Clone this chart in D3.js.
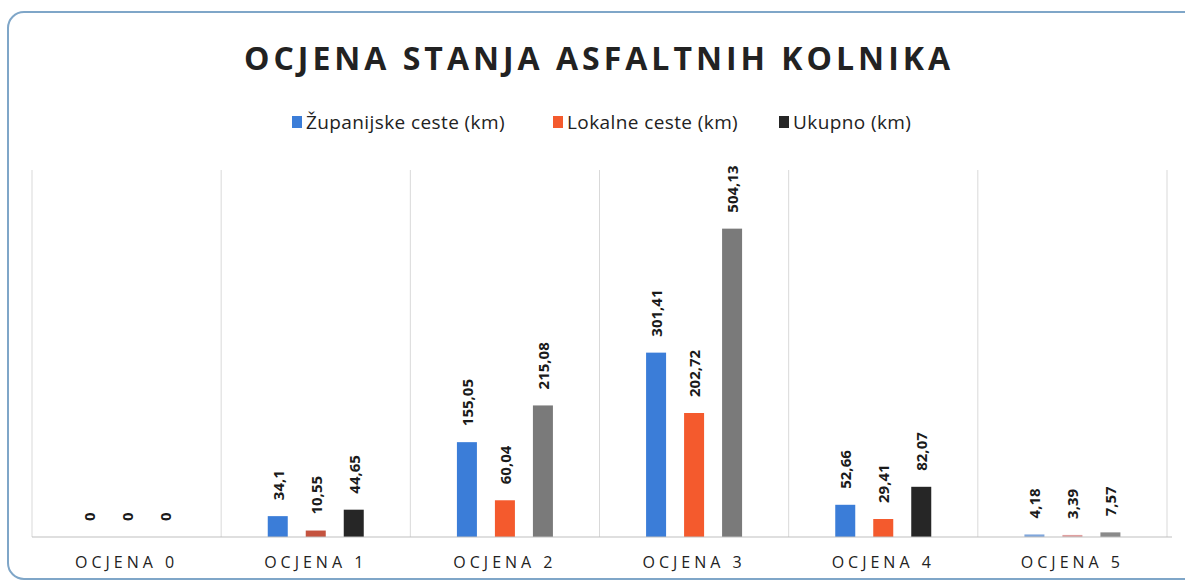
<!DOCTYPE html>
<html>
<head>
<meta charset="utf-8">
<script src="https://cdn.jsdelivr.net/npm/d3@7"></script>
<style>
  body { margin: 0; background: #fff; }
  svg { display: block; font-family: "Open Sans", "DejaVu Sans", sans-serif; }
</style>
</head>
<body>
<svg width="1185" height="584"></svg>
<script>
const categories = ["OCJENA 0", "OCJENA 1", "OCJENA 2", "OCJENA 3", "OCJENA 4", "OCJENA 5"];
const seriesNames = ["Županijske ceste (km)", "Lokalne ceste (km)", "Ukupno (km)"];
const zupanijske = [0, 34.1, 155.05, 301.41, 52.66, 4.18];
const lokalne = [0, 10.55, 60.04, 202.72, 29.41, 3.39];
const ukupno = [0, 44.65, 215.08, 504.13, 82.07, 7.57];
const labels = [
  ["0", "34,1", "155,05", "301,41", "52,66", "4,18"],
  ["0", "10,55", "60,04", "202,72", "29,41", "3,39"],
  ["0", "44,65", "215,08", "504,13", "82,07", "7,57"]
];

const colors = ["#3b7dd8", "#f45a2d", "#262626"];
// the scanned picture shows a few bars in off colours
const overrideColor = {
  "1|OCJENA 1": "#c4533f",
  "2|OCJENA 2": "#7a7a7a",
  "2|OCJENA 3": "#7a7a7a",
  "0|OCJENA 5": "#7fa6dc",
  "1|OCJENA 5": "#e0a0a0",
  "2|OCJENA 5": "#8a8a8a"
};

const svg = d3.select("svg");
const plot = { left: 32, right: 1167, top: 170, bottom: 537 };

// frame
svg.append("rect")
  .attr("x", 8).attr("y", 12)
  .attr("width", 1200).attr("height", 567)
  .attr("rx", 16)
  .attr("fill", "none")
  .attr("stroke", "#7fa6c8")
  .attr("stroke-width", 2);

// title
svg.append("text")
  .attr("x", 599).attr("y", 70)
  .attr("text-anchor", "middle")
  .attr("font-size", 32)
  .attr("font-weight", "bold")
  .attr("letter-spacing", 4)
  .attr("fill", "#222")
  .text("OCJENA STANJA ASFALTNIH KOLNIKA");

// legend
const legendX = [292, 553, 779];
const legend = svg.append("g");
seriesNames.forEach((name, i) => {
  legend.append("rect")
    .attr("x", legendX[i]).attr("y", 116)
    .attr("width", 10).attr("height", 12)
    .attr("fill", colors[i]);
  legend.append("text")
    .attr("x", legendX[i] + 14).attr("y", 129)
    .attr("font-size", 19)
    .attr("letter-spacing", 0.4)
    .attr("fill", "#222")
    .text(name);
});

const x0 = d3.scaleBand().domain(categories).range([plot.left, plot.right]);
const y = d3.scaleLinear().domain([0, 600]).range([plot.bottom, plot.top]);

// vertical separators
svg.append("g")
  .selectAll("line")
  .data(d3.range(categories.length + 1))
  .join("line")
  .attr("x1", i => plot.left + i * x0.bandwidth())
  .attr("x2", i => plot.left + i * x0.bandwidth())
  .attr("y1", plot.top).attr("y2", plot.bottom)
  .attr("stroke", "#d9d9d9")
  .attr("stroke-width", 1);

// bars
const barW = 20;
const offsets = [-38, 0, 38];
const series = [zupanijske, lokalne, ukupno];

const groups = svg.append("g")
  .selectAll("g")
  .data(categories)
  .join("g")
  .attr("transform", d => `translate(${x0(d) + x0.bandwidth() / 2},0)`);

series.forEach((vals, s) => {
  groups.append("rect")
    .attr("x", offsets[s] - barW / 2)
    .attr("y", (d, i) => y(vals[i]))
    .attr("width", barW)
    .attr("height", (d, i) => y(0) - y(vals[i]))
    .attr("fill", d => overrideColor[s + "|" + d] || colors[s]);

  groups.append("text")
    .attr("transform", (d, i) => `translate(${offsets[s] + 6},${y(vals[i]) - 16}) rotate(-90)`)
    .attr("font-size", 15)
    .attr("font-weight", "bold")
    .attr("fill", "#1a1a1a")
    .text((d, i) => labels[s][i]);
});

// baseline
svg.append("line")
  .attr("x1", plot.left).attr("x2", plot.right + 5)
  .attr("y1", plot.bottom).attr("y2", plot.bottom)
  .attr("stroke", "#bfbfbf");

// x axis labels
svg.append("g")
  .attr("transform", `translate(0,${plot.bottom})`)
  .call(d3.axisBottom(x0).tickSize(0).tickPadding(20))
  .call(g => g.select(".domain").remove())
  .call(g => g.selectAll("text")
    .attr("font-size", 16)
    .attr("letter-spacing", 4)
    .attr("fill", "#222")
    .attr("font-family", "'Open Sans', sans-serif"));
</script>
</body>
</html>
